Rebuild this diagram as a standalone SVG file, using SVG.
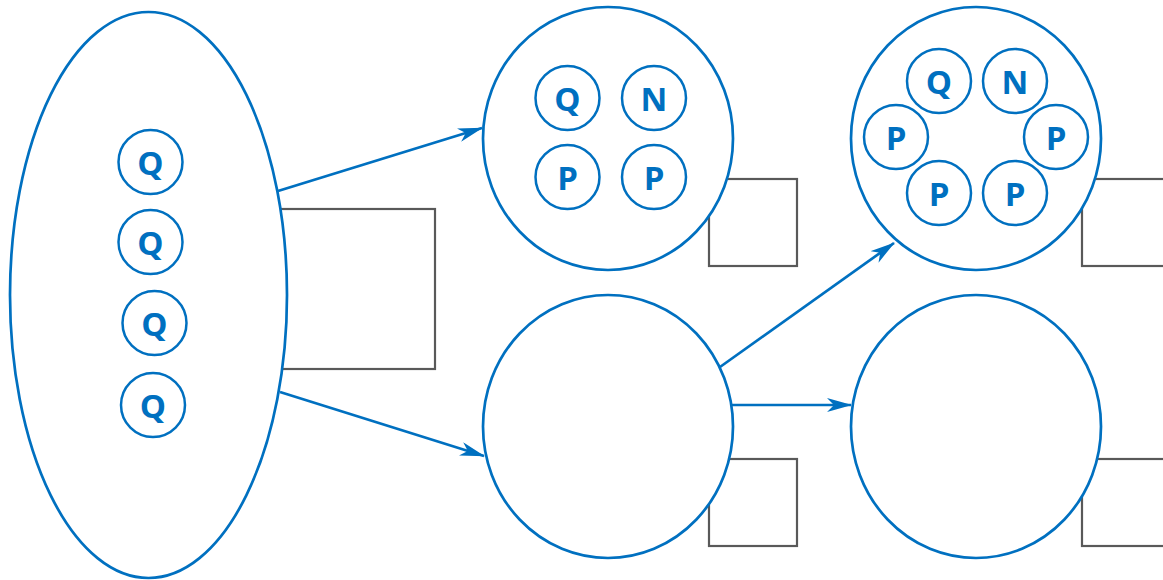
<svg xmlns="http://www.w3.org/2000/svg" width="1163" height="580" viewBox="0 0 1163 580">
<style>
.box{fill:#fff;stroke:#595959;stroke-width:2.2}
.big{fill:#fff;stroke:#0070C0;stroke-width:2.7}
.sm{fill:#fff;stroke:#0070C0;stroke-width:2.5}
.lbl{font-family:"Open Sans","Noto Sans",sans-serif;font-weight:bold;font-size:33px;fill:#0070C0;text-anchor:middle;dominant-baseline:central}
.con{stroke:#0070C0;stroke-width:2.7;fill:none;marker-end:url(#ah)}
</style>
<defs>
<marker id="ah" viewBox="0 0 25 14" refX="24" refY="7" markerWidth="25" markerHeight="14" markerUnits="userSpaceOnUse" orient="auto">
<path d="M0,0 L25,7 L0,14 L7,7 Z" fill="#0070C0"/>
</marker>
</defs>
<g id="boxes">
<rect class="box" x="260" y="209" width="175" height="160"/>
<rect class="box" x="709" y="179" width="88" height="87"/>
<rect class="box" x="709" y="459" width="88" height="87"/>
<rect class="box" x="1082" y="179" width="100" height="87"/>
<rect class="box" x="1082" y="459" width="100" height="87"/>
</g>
<g id="connectors">
<line class="con" x1="278" y1="191" x2="482" y2="128"/>
<line class="con" x1="280" y1="392" x2="484" y2="456"/>
<line class="con" x1="720" y1="367" x2="894" y2="243"/>
<line class="con" x1="732" y1="405" x2="851" y2="405"/>
</g>
<g id="node-left">
<ellipse class="big" cx="148.500" cy="295" rx="138.500" ry="283"/>
<circle class="sm" cx="150.500" cy="162" r="32"/><text class="lbl" x="150.500" y="162">Q</text>
<circle class="sm" cx="150.500" cy="242" r="32"/><text class="lbl" x="150.500" y="242">Q</text>
<circle class="sm" cx="154.500" cy="323" r="32"/><text class="lbl" x="154.500" y="323">Q</text>
<circle class="sm" cx="153" cy="405" r="32"/><text class="lbl" x="153" y="405">Q</text>
</g>
<g id="node-mid-top">
<ellipse class="big" cx="608" cy="138.500" rx="125" ry="131.500"/>
<circle class="sm" cx="567.500" cy="98" r="32"/><text class="lbl" x="567.500" y="98">Q</text>
<circle class="sm" cx="654" cy="98" r="32"/><text class="lbl" x="654" y="98">N</text>
<circle class="sm" cx="567.500" cy="177" r="32"/><text class="lbl" x="567.500" y="177">P</text>
<circle class="sm" cx="654" cy="177" r="32"/><text class="lbl" x="654" y="177">P</text>
</g>
<g id="node-mid-bottom">
<ellipse class="big" cx="608" cy="426.500" rx="125" ry="131.500"/>
</g>
<g id="node-right-top">
<ellipse class="big" cx="976" cy="138.500" rx="125" ry="131.500"/>
<circle class="sm" cx="939" cy="81" r="32"/><text class="lbl" x="939" y="81">Q</text>
<circle class="sm" cx="1015" cy="81" r="32"/><text class="lbl" x="1015" y="81">N</text>
<circle class="sm" cx="896" cy="137" r="32"/><text class="lbl" x="896" y="137">P</text>
<circle class="sm" cx="1056" cy="137" r="32"/><text class="lbl" x="1056" y="137">P</text>
<circle class="sm" cx="939" cy="193" r="32"/><text class="lbl" x="939" y="193">P</text>
<circle class="sm" cx="1015" cy="193" r="32"/><text class="lbl" x="1015" y="193">P</text>
</g>
<g id="node-right-bottom">
<ellipse class="big" cx="976" cy="426.500" rx="125" ry="131.500"/>
</g>
</svg>
